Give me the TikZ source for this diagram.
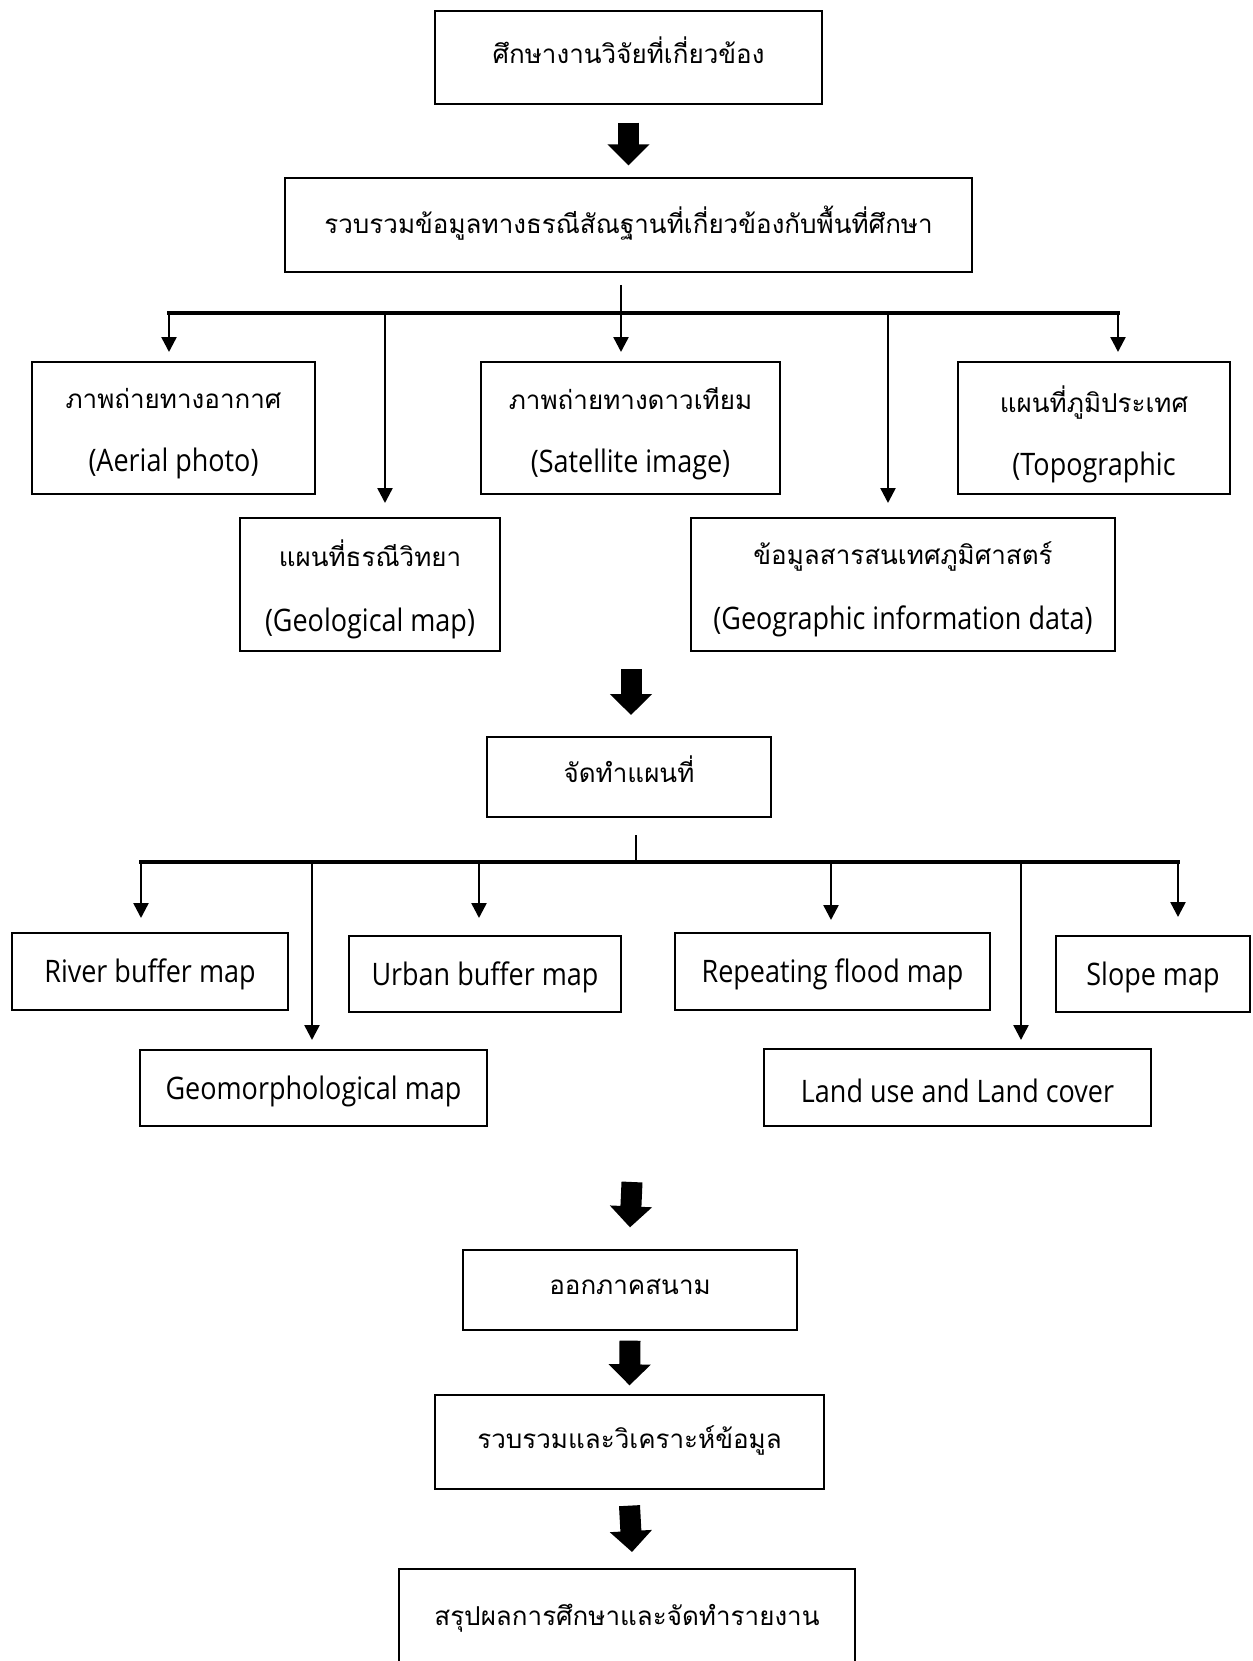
\documentclass[tikz,border=0pt]{standalone}
\usepackage{fontspec}
\setmainfont[Script=Thai]{Loma}
\newfontfamily\latinfont[FakeStretch=0.87]{Open Sans}
\newcommand{\upby}[2]{\raisebox{#1}[\height][\depth]{#2}}
\newcommand{\en}[1]{\upby{-3pt}{\latinfont\fontsize{31}{61}\selectfont #1}}
\newcommand{\enlow}[1]{\upby{-7pt}{\latinfont\fontsize{31}{61}\selectfont #1}}
\usetikzlibrary{arrows.meta}
\tikzset{
  box/.style={draw, line width=1.3pt, fill=white, align=center, inner sep=0pt, font=\fontsize{26}{61}\selectfont},
  lbl/.style={align=center, inner sep=0pt, font=\fontsize{26}{61}\selectfont},
  bigarrow/.style={line width=21pt, -{Triangle[length=21pt,width=41pt]}},
  bar/.style={line width=3.5pt, line cap=rect},
  drop/.style={line width=2.5pt, -{Triangle[length=15pt,width=15pt]}},
  dropline/.style={line width=2.5pt}
}
\begin{document}
\begin{tikzpicture}[x=1pt,y=-1pt]
\useasboundingbox[fill=white] (0,0) rectangle (1252,1661);
% top boxes
\node[box, minimum width=387pt, minimum height=93pt] (top) at (628.5,57.5) {\upby{7pt}{ศึกษางานวิจัยที่เกี่ยวข้อง}};
\node[box, minimum width=687pt, minimum height=94pt] (collect) at (628.5,225) {\upby{2pt}{รวบรวมข้อมูลทางธรณีสัณฐานที่เกี่ยวข้องกับพื้นที่ศึกษา}};
\draw[bigarrow] ([yshift=-18pt]top.south) -- ([yshift=12pt]collect.north);
% row 1 data boxes
\node[box, minimum width=283pt, minimum height=132pt] (aerial) at (173.5,428) {\upby{-5pt}{ภาพถ่ายทางอากาศ}\\\enlow{(Aerial photo)}};
\node[box, minimum width=299pt, minimum height=132pt] (sat) at (630.5,428) {\upby{-5pt}{ภาพถ่ายทางดาวเทียม}\\\enlow{(Satellite image)}};
\node[box, minimum width=272pt, minimum height=132pt] (topo) at (1094,428) {\upby{-5pt}{แผนที่ภูมิประเทศ}\\\enlow{(Topographic}};
\node[box, minimum width=260pt, minimum height=133pt] (geol) at (370,584.5) {\upby{-3pt}{แผนที่ธรณีวิทยา}\\\enlow{(Geological map)}};
\node[box, minimum width=424pt, minimum height=133pt] (gis) at (903,584.5) {\upby{-3pt}{ข้อมูลสารสนเทศภูมิศาสตร์}\\\enlow{(Geographic information data)}};
% tree 1
\coordinate (s1) at (621,285);
\coordinate (b1) at (621,313);
\coordinate (bl1) at (169,313);
\coordinate (br1) at (1118,313);
\draw[dropline] (s1) -- (b1);
\draw[bar] (bl1) -- (br1);
\draw[drop] (bl1) -- (169,352);
\draw[drop] (385,313) -- (385,503);
\draw[drop] (b1) -- (621,352);
\draw[drop] (888,313) -- (888,503);
\draw[drop] (br1) -- (1118,352);
% map box
\node[box, minimum width=284pt, minimum height=80pt] (map) at (629,777) {\upby{8pt}{จัดทำแผนที่}};
\draw[bigarrow] (631,669) -- (631,715);
% tree 2
\coordinate (s2) at (636,835);
\coordinate (b2) at (636,862);
\coordinate (bl2) at (141,862);
\coordinate (br2) at (1178,862);
\draw[dropline] (s2) -- (b2);
\draw[bar] (bl2) -- (br2);
\draw[drop] (bl2) -- (141,918);
\draw[drop] (312,862) -- (312,1040);
\draw[drop] (479,862) -- (479,918);
\draw[drop] (831,862) -- (831,920);
\draw[drop] (1021,862) -- (1021,1040);
\draw[drop] (br2) -- (1178,917);
% map boxes
\node[box, minimum width=276pt, minimum height=77pt] (river) at (150,971.5) {\en{River buffer map}};
\node[box, minimum width=272pt, minimum height=76pt] (urban) at (485,974) {\en{Urban buffer map}};
\node[box, minimum width=315pt, minimum height=77pt] (flood) at (832.5,971.5) {\en{Repeating flood map}};
\node[box, minimum width=194pt, minimum height=76pt] (slope) at (1153,974) {\en{Slope map}};
\node[box, minimum width=347pt, minimum height=76pt] (geom) at (313.5,1088) {\en{Geomorphological map}};
\node[box, minimum width=387pt, minimum height=77pt] (landuse) at (957.5,1087.5) {\en{Land use and Land cover}};
% lower chain
\node[box, minimum width=334pt, minimum height=80pt] (field) at (630,1290) {\upby{3pt}{ออกภาคสนาม}};
\node[box, minimum width=389pt, minimum height=94pt] (anal) at (629.5,1442) {\upby{2pt}{รวบรวมและวิเคราะห์ข้อมูล}};
\draw[bigarrow] (632,1182) -- ([yshift=22pt]field.north);
\draw[bigarrow] ([yshift=-10pt]field.south) -- ([yshift=9pt]anal.north);
\draw[line width=1.3pt] (399,1661) |- (855,1569) -- (855,1661);
\node[lbl] (summ) at (627,1618) {สรุปผลการศึกษาและจัดทำรายงาน};
\draw[bigarrow] ([yshift=-16pt]anal.south) -- (632,1552);
\end{tikzpicture}
\end{document}
